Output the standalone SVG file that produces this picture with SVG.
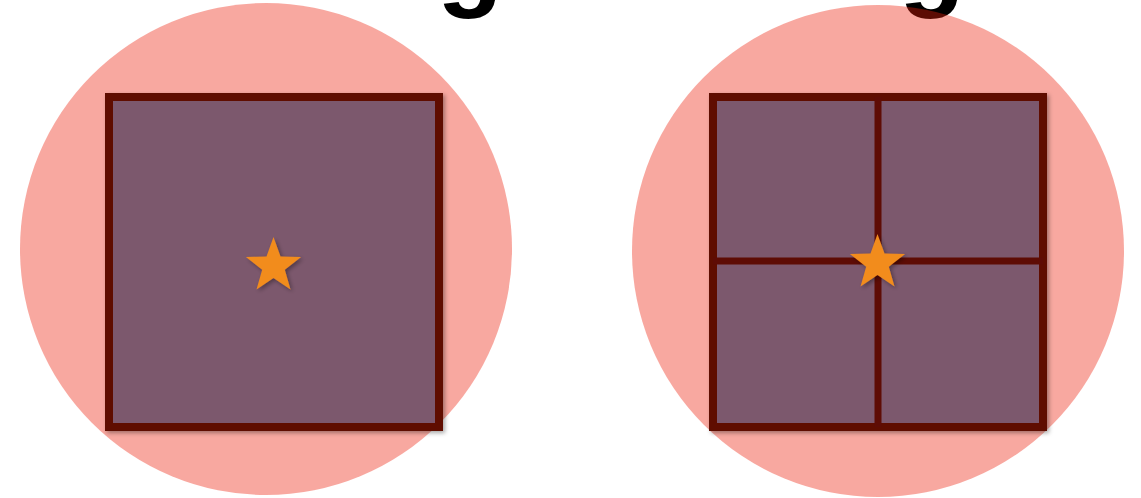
<svg xmlns="http://www.w3.org/2000/svg" width="1141" height="498" viewBox="0 0 1141 498">
  <defs>
    <style>
      .title { font-family: "Liberation Sans", Arial, sans-serif; font-weight: bold; font-size: 108px; fill: #000; }
      .disc { fill: rgb(236, 30, 10); fill-opacity: 0.39; }
      .sq { fill: #7B596D; stroke: #5E0C05; stroke-width: 8; }
      .div { stroke: #5E0C05; stroke-width: 7; fill: none; }
      .star { fill: #F28C1E; }
    </style>
    <filter id="sh" x="-20%" y="-20%" width="140%" height="140%">
      <feDropShadow dx="2" dy="2" stdDeviation="2" flood-color="#000" flood-opacity="0.35"/>
    </filter>
    <filter id="tex" x="0" y="0" width="100%" height="100%">
      <feTurbulence type="fractalNoise" baseFrequency="0.9" numOctaves="2" seed="3" result="n"/>
      <feColorMatrix in="n" type="matrix" values="0 0 0 0 0  0 0 0 0 0  0 0 0 0 0  0 0 0 0.06 0" result="m"/>
      <feComposite in="m" in2="SourceGraphic" operator="atop"/>
    </filter>
    <path id="starShape" d="M0,-29 L7,-9.6 L27.6,-9 L11.3,3.7 L17,23.5 L0,11.9 L-17,23.5 L-11.3,3.7 L-27.6,-9 L-7,-9.6 Z"/>
  </defs>

  <g id="titles">
    <text class="title" x="470" y="-3" text-anchor="middle">g</text>
    <text class="title" x="932" y="-3" text-anchor="middle">g</text>
  </g>

  <g id="left-node">
    <circle class="disc" cx="266" cy="249" r="246"/>
    <rect class="sq" x="109" y="97" width="330" height="330" filter="url(#sh)"/>
    <use href="#starShape" class="star" transform="translate(273.5,266)" filter="url(#sh)"/>
  </g>

  <g id="right-node">
    <circle class="disc" cx="878" cy="251" r="246"/>
    <rect class="sq" x="713" y="97" width="330" height="330" filter="url(#sh)"/>
    <g id="connectors">
      <line class="div" x1="878" y1="97" x2="878" y2="427"/>
      <line class="div" x1="713" y1="261" x2="1043" y2="261"/>
    </g>
    <use href="#starShape" class="star" transform="translate(877.5,263)" filter="url(#sh)"/>
  </g>
</svg>
